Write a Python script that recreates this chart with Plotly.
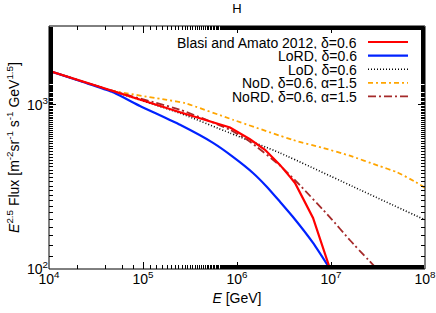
import plotly.graph_objects as go

# log10(E/GeV) and log10(flux)
lord_logE = [4.0, 4.362, 4.67, 4.968, 5.394, 5.745, 5.957, 6.170, 6.319, 6.457, 6.596, 6.809, 6.99]
lord_logF = [3.207, 3.139, 3.079, 2.993, 2.878, 2.768, 2.683, 2.585, 2.50, 2.41, 2.317, 2.159, 2.0]

lod_logE = [4.0, 4.67, 5.394, 5.926, 6.457, 7.309, 8.0]
lod_logF = [3.207, 3.085, 2.949, 2.828, 2.707, 2.482, 2.299]

nod_logE = [4.0, 4.67, 5.255, 5.447, 5.957, 6.6, 6.9, 7.2, 7.5, 7.7, 7.9, 8.0]
nod_logF = [3.207, 3.087, 3.03, 3.01, 2.909, 2.785, 2.74, 2.69, 2.63, 2.59, 2.53, 2.494]

ba_logE = [4.0, 4.67, 5.394, 5.926, 6.138, 6.298, 6.457, 6.564, 6.617, 6.809, 6.99]
ba_logF = [3.207, 3.085, 2.955, 2.862, 2.790, 2.726, 2.634, 2.561, 2.524, 2.311, 2.0]

nord_logE = [4.0, 4.67, 5.394, 5.926, 6.138, 6.457, 6.67, 6.989, 7.202, 7.489]
nord_logF = [3.207, 3.086, 2.970, 2.848, 2.775, 2.63, 2.51, 2.315, 2.175, 2.0]

x_ticks = [1e4, 1e5, 1e6, 1e7, 1e8]
x_ticktext = ["10<sup>4</sup>", "10<sup>5</sup>", "10<sup>6</sup>", "10<sup>7</sup>", "10<sup>8</sup>"]
y_ticks = [1e2, 1e3]
y_ticktext = ["10<sup>2</sup>", "10<sup>3</sup>"]

series = [
    ("Blasi and Amato 2012, δ=0.6", ba_logE, ba_logF, "#ff0000", "solid", 2.2, "linear"),
    ("LoRD, δ=0.6", lord_logE, lord_logF, "#0022ff", "solid", 2.2, "spline"),
    ("LoD, δ=0.6", lod_logE, lod_logF, "#000000", "1px,2px", 1.6, "spline"),
    ("NoD, δ=0.6, α=1.5", nod_logE, nod_logF, "#ffa500", "5px,3px,2px,3px", 1.8, "spline"),
    ("NoRD, δ=0.6, α=1.5", nord_logE, nord_logF, "#a52a2a", "8px,3px,2px,3px", 1.8, "spline"),
]

L, R, T, B = 49, 425, 26, 269
W, H = R - L, B - T

fig = go.Figure()
order = [2, 3, 4, 1, 0]
for i in order:
    name, lx, ly, col, dash, w, shp = series[i]
    line = dict(color=col, dash=dash, width=w, shape=shp)
    if shp == "spline":
        line["smoothing"] = 0.5
    fig.add_trace(go.Scatter(
        x=[10 ** v for v in lx], y=[10 ** v for v in ly], mode="lines", name=name,
        line=line, showlegend=False, hoverinfo="skip"))

fam = "Liberation Sans, Arial, sans-serif"
font = dict(family=fam, size=14, color="#000")

leg_y0 = 42
leg_dy = 13.6
for k, (name, lx, ly, col, dash, w, shp) in enumerate(series):
    ypx = leg_y0 + k * leg_dy
    yp = 1 - (ypx - T) / H
    fig.add_annotation(x=(359 - L) / W, y=yp, xref="paper", yref="paper",
                       text=name, showarrow=False, xanchor="right", yanchor="middle",
                       font=font, height=13)
    fig.add_shape(type="line", xref="paper", yref="paper",
                  x0=(368 - L) / W, x1=(408 - L) / W, y0=yp, y1=yp,
                  line=dict(color=col, dash=dash, width=w))

# plot frame
fig.add_shape(type="rect", xref="paper", yref="paper", x0=0, x1=1, y0=0, y1=1,
              line=dict(color="#000", width=1), layer="above")

fig.update_layout(
    width=436, height=313,
    margin=dict(l=L, r=436 - R, t=T, b=313 - B, autoexpand=False),
    paper_bgcolor="white", plot_bgcolor="white",
    font=font,
    title=dict(text="H", x=(L + W / 2) / 436, xanchor="center", y=1 - 8 / 313,
               yanchor="middle", font=dict(family=fam, size=13)),
    showlegend=False,
)
fig.update_xaxes(
    type="log", range=[4, 8], tickvals=x_ticks, ticktext=x_ticktext,
    ticks="inside", ticklen=7, tickwidth=1, tickcolor="#000",
    minor=dict(ticks="inside", ticklen=4, tickcolor="#000", showgrid=False),
    showline=False, mirror="ticks",
    showgrid=False, zeroline=False, automargin=False, ticklabeloverflow="allow",
    tickfont=dict(family=fam, size=14),
    title=dict(text="<i>E</i> [GeV]", standoff=7, font=font),
)
fig.update_yaxes(
    type="log", range=[2, 3.48], tickvals=y_ticks, ticktext=y_ticktext,
    ticks="inside", ticklen=7, tickwidth=1, tickcolor="#000",
    minor=dict(ticks="inside", ticklen=4, tickcolor="#000", showgrid=False),
    showline=False, mirror="ticks",
    showgrid=False, zeroline=False, automargin=False, ticklabeloverflow="allow",
    tickfont=dict(family=fam, size=14),
    title=dict(text="<i>E</i><sup>2.5</sup> Flux [m<sup>-2</sup>sr<sup>-1</sup> s<sup>-1</sup> GeV<sup>1.5</sup>]",
               standoff=4, font=font),
)
fig.write_html("out.html", config={"displayModeBar": False},
               post_script="document.body.style.margin='0';document.body.style.overflow='hidden';")
